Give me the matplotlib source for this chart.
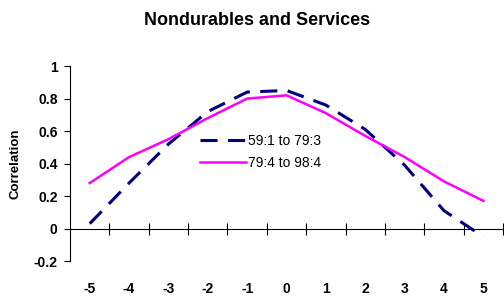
import matplotlib.pyplot as plt
import numpy as np

lags = [-5, -4, -3, -2, -1, 0, 1, 2, 3, 4, 5]
early = [0.03, 0.28, 0.52, 0.72, 0.84, 0.85, 0.76, 0.61, 0.39, 0.11, -0.05]
late = [0.28, 0.44, 0.55, 0.68, 0.80, 0.82, 0.71, 0.57, 0.44, 0.29, 0.17]

plt.rcParams['font.family'] = ['Liberation Sans', 'DejaVu Sans']

fig = plt.figure(figsize=(5.04, 2.99), dpi=100)
ax = fig.add_axes([0.139, 0.127, 0.859, 0.652])

ax.plot(lags, early, color='#000080', lw=2.2, dashes=(5.6, 3.4), label='59:1 to 79:3')
ax.plot(lags, late, color='#ff00ff', lw=1.8, label='79:4 to 98:4')

ax.set_xlim(-5.5, 5.5)
ax.set_ylim(-0.2, 1.0)
ax.set_yticks(np.arange(-0.2, 1.01, 0.2))
ax.set_yticklabels(['-0.2', '0', '0.2', '0.4', '0.6', '0.8', '1'])

for s in ['top', 'right']:
    ax.spines[s].set_visible(False)
ax.spines['bottom'].set_position(('data', 0))
ax.spines['bottom'].set_linewidth(0.8)
ax.spines['left'].set_linewidth(0.8)

ax.set_xticks(np.arange(-4.5, 5.6, 1.0))
ax.set_xticklabels([])
ax.tick_params(axis='x', direction='inout', length=8, width=0.8)
ax.tick_params(axis='y', direction='out', length=4, width=0.8, labelsize=10, pad=5)
for t in ax.get_yticklabels():
    t.set_fontweight('bold')

# category labels sit below the plot, not on the zero line
for x in lags:
    ax.text(x, -0.375, str(x), ha='center', va='center',
            fontsize=10, fontweight='bold', clip_on=False)

ax.set_ylabel('Correlation', fontsize=9.5, fontweight='bold', labelpad=9)
fig.suptitle('Nondurables and Services', fontsize=13, fontweight='bold', x=0.51, y=0.96)

ax.legend(loc='upper left', bbox_to_anchor=(0.272, 0.715), frameon=False, fontsize=10,
          handlelength=3.3, handletextpad=0.15, labelspacing=0.55)

fig.savefig('out.png', dpi=100)
